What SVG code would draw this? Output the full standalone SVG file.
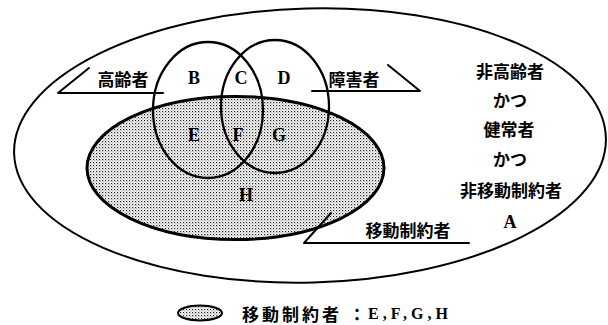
<svg xmlns="http://www.w3.org/2000/svg" width="608" height="325" viewBox="0 0 608 325">
<defs>
<pattern id="dots" width="3" height="3" patternUnits="userSpaceOnUse">
<rect width="3" height="3" fill="#ffffff"/>
<rect x="0" y="0" width="1.2" height="1.2" fill="#222"/>
<rect x="1.5" y="1.5" width="1" height="1" fill="#666"/>
</pattern>
<style>
.ln{fill:none;stroke:#000;stroke-linecap:round;stroke-linejoin:round}
.jp{font-family:"Noto Sans CJK JP","Noto Sans CJK SC",sans-serif;font-weight:700;font-size:17px;fill:#000;text-anchor:middle;dominant-baseline:central}
.lt{font-family:"Liberation Serif","DejaVu Serif",serif;font-weight:700;font-size:18px;fill:#000;text-anchor:middle;dominant-baseline:central}
</style>
</defs>
<rect width="608" height="325" fill="#fff"/>
<g id="universe">
<ellipse class="ln" cx="310" cy="145.5" rx="296" ry="137" stroke-width="2" transform="rotate(-1.5 310 145.5)"/>
</g>
<g id="mobility">
<ellipse cx="235.5" cy="168" rx="148.5" ry="71.5" fill="url(#dots)" stroke="#000" stroke-width="3"/>
</g>
<g id="elderly">
<ellipse class="ln" cx="208" cy="110" rx="55" ry="68" stroke-width="2.3"/>
</g>
<g id="disabled">
<ellipse class="ln" cx="275" cy="106.5" rx="54" ry="66.5" stroke-width="2.3"/>
</g>
<g id="connectors">
<polyline class="ln" points="89,68 58,93 163,93" stroke-width="2"/>
<polyline class="ln" points="312,91 420,91 388,65" stroke-width="2"/>
<polyline class="ln" points="331,213 304,243 469,243" stroke-width="2"/>
</g>
<g id="label-elderly"><text class="jp" x="123" y="78">高齢者</text></g>
<g id="label-disabled"><text class="jp" x="354" y="78">障害者</text></g>
<g id="label-mobility"><text class="jp" x="408" y="229">移動制約者</text></g>
<g id="regions">
<text class="lt" x="194" y="78">B</text>
<text class="lt" x="241" y="78">C</text>
<text class="lt" x="284" y="78">D</text>
<text class="lt" x="194" y="135">E</text>
<text class="lt" x="238" y="135">F</text>
<text class="lt" x="279" y="135">G</text>
<text class="lt" x="246" y="195">H</text>
<text class="lt" x="510" y="222">A</text>
</g>
<g id="label-a">
<text class="jp" x="510" y="70">非高齢者</text>
<text class="jp" x="510" y="99">かつ</text>
<text class="jp" x="509" y="128">健常者</text>
<text class="jp" x="510" y="158">かつ</text>
<text class="jp" x="511" y="189">非移動制約者</text>
</g>
<g id="legend">
<ellipse cx="200" cy="313" rx="22" ry="7.5" fill="url(#dots)" stroke="#000" stroke-width="2"/>
<text class="jp" x="242" y="313" style="text-anchor:start;letter-spacing:3px">移動制約者</text>
<text class="jp" x="357" y="313">：</text>
<text class="lt" x="368" y="313" style="text-anchor:start;font-size:16px;letter-spacing:4px">E,F,G,H</text>
</g>
</svg>
